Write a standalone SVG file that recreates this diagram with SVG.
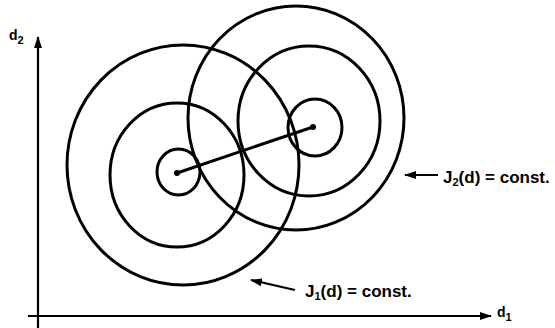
<svg xmlns="http://www.w3.org/2000/svg" width="555" height="328" viewBox="0 0 555 328">
<style>
.c{fill:none;stroke:#000;stroke-width:3}
.ax{fill:none;stroke:#000;stroke-width:2.2}
.t{font-family:"Liberation Sans",Arial,sans-serif;font-weight:bold;font-size:17px;fill:#000}
.a{font-size:14px}
.s{font-size:11px}
</style>
<defs>
<marker id="ah" markerWidth="12" markerHeight="8" refX="11" refY="4" orient="auto" markerUnits="userSpaceOnUse">
<path d="M0,0 L12,4 L0,8 Z" fill="#000"/>
</marker>
</defs>
<rect width="555" height="328" fill="#fff"/>
<g id="axes">
<line class="ax" x1="38" y1="328" x2="38" y2="37" marker-end="url(#ah)"/>
<line class="ax" x1="28" y1="316" x2="491" y2="316" marker-end="url(#ah)"/>
<text class="t a" x="9" y="40">d<tspan class="s" dy="4">2</tspan></text>
<text class="t a" x="497" y="317">d<tspan class="s" dy="4">1</tspan></text>
</g>
<g id="J1">
<ellipse class="c" cx="178.5" cy="172" rx="21.5" ry="23"/>
<ellipse class="c" cx="177" cy="175" rx="67" ry="72"/>
<ellipse class="c" cx="183" cy="165" rx="116" ry="120"/>
</g>
<g id="J2">
<ellipse class="c" cx="315" cy="127.5" rx="27" ry="28.5"/>
<ellipse class="c" cx="309" cy="121" rx="71" ry="75"/>
<ellipse class="c" cx="296" cy="118" rx="108" ry="112"/>
</g>
<g id="connectors">
<line class="c" x1="177" y1="173" x2="313" y2="127" stroke-width="2.5"/>
<circle cx="177" cy="173" r="3" fill="#000"/>
<circle cx="313" cy="127" r="3" fill="#000"/>
<line class="ax" x1="438" y1="175" x2="405" y2="175" marker-end="url(#ah)"/>
<line class="ax" x1="295" y1="290" x2="251" y2="280" marker-end="url(#ah)"/>
</g>
<g id="labels">
<text class="t" x="443" y="183">J<tspan class="s" dy="3">2</tspan><tspan dy="-3">(d) = const.</tspan></text>
<text class="t" x="305" y="297">J<tspan class="s" dy="3">1</tspan><tspan dy="-3">(d) = const.</tspan></text>
</g>
</svg>
